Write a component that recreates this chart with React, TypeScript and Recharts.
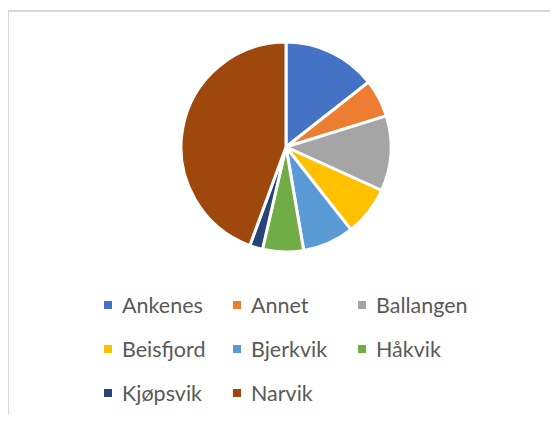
import React from "react";
import { PieChart, Pie, Cell, Legend } from "recharts";

const categories = ["Ankenes", "Annet", "Ballangen", "Beisfjord", "Bjerkvik", "Håkvik", "Kjøpsvik", "Narvik"];
const values = [14.4, 5.8, 11.6, 7.6, 7.9, 6.3, 2.0, 44.4];
const colors = ["#4472C4", "#ED7D31", "#A5A5A5", "#FFC000", "#5B9BD5", "#70AD47", "#264478", "#9E480E"];

const data = categories.map((name, i) => ({ name, value: values[i] }));

const FONT = "Lato, 'Open Sans', sans-serif";

const renderLegend = (props: any) => {
  const payload = props.payload || [];
  return (
    <div
      style={{
        display: "grid",
        gridTemplateColumns: "129px 125px 160px",
        gridAutoRows: "44px",
        fontFamily: FONT,
        fontSize: 21.5,
        color: "#595959",
      }}
    >
      {payload.map((entry: any, i: number) => (
        <div key={i} style={{ display: "flex", alignItems: "center", whiteSpace: "nowrap" }}>
          <span
            style={{
              display: "inline-block",
              width: 8,
              height: 8,
              background: entry.color,
              marginRight: 10,
            }}
          />
          <span>{entry.value}</span>
        </div>
      ))}
    </div>
  );
};

export default function App() {
  return (
    <div style={{ position: "relative", margin: -8, width: 558, height: 423, background: "#fff", overflow: "hidden" }}>
      <div
        style={{
          position: "absolute",
          left: 7,
          top: 10,
          width: 600,
          height: 500,
          border: "2px solid #D9D9D9",
          boxSizing: "border-box",
        }}
      />
      <div style={{ position: "absolute", left: 0, top: 0 }}>
        <PieChart width={558} height={423}>
          <Pie
            data={data}
            dataKey="value"
            nameKey="name"
            cx={281}
            cy={142}
            outerRadius={105}
            startAngle={90}
            endAngle={-270}
            stroke="#FFFFFF"
            strokeWidth={3}
            isAnimationActive={false}
          >
            {data.map((d, i) => (
              <Cell key={d.name} fill={colors[i]} />
            ))}
          </Pie>
          <Legend
            content={renderLegend}
            wrapperStyle={{ position: "absolute", left: 104, top: 283, width: 420 }}
          />
        </PieChart>
      </div>
    </div>
  );
}
